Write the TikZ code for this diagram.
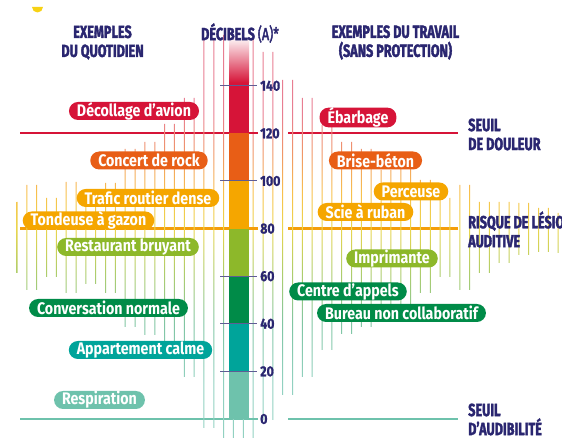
\documentclass[tikz,border=0pt]{standalone}
\usepackage{fontspec}
\setmainfont{Fira Sans}
\newfontfamily\pillfont[FakeStretch=0.85]{Fira Sans}
\newfontfamily\titrefont[FakeStretch=0.72,FakeBold=2]{Fira Sans}
\newfontfamily\chiffrefont[FakeStretch=0.85,FakeBold=1]{Fira Sans}

\definecolor{dbrouge}{RGB}{214,20,56}
\definecolor{dborange}{RGB}{232,94,22}
\definecolor{dbambre}{RGB}{245,166,0}
\definecolor{dbjaune}{RGB}{226,196,0}
\definecolor{dbtilleul}{RGB}{141,184,42}
\definecolor{dbvert}{RGB}{0,139,72}
\definecolor{dbsarcelle}{RGB}{0,164,154}
\definecolor{dbmenthe}{RGB}{110,194,172}
\definecolor{marine}{RGB}{42,38,112}
\definecolor{soleil}{RGB}{247,210,20}
\definecolor{seuilambre}{RGB}{244,158,10}

% Degrade des traits verticaux (0 dB en bas, rouge en haut)
\pgfdeclareverticalshading{ondes}{100bp}{%
  color(0bp)=(dbmenthe!75);
  color(31bp)=(dbmenthe!75);
  color(38bp)=(dbvert!50);
  color(44bp)=(dbtilleul!70);
  color(49bp)=(dbjaune!70);
  color(53bp)=(dbambre!70);
  color(57.5bp)=(dborange!65);
  color(62bp)=(dbrouge!55);
  color(100bp)=(dbrouge!55)}

\begin{document}
\begin{tikzpicture}[x=0.3mm, y=0.3mm,
    pastille/.style={rounded corners=2.7mm, minimum height=5.4mm, inner xsep=2.4mm,
      inner ysep=0pt, text=white, font=\pillfont\bfseries\fontsize{14.3}{14.3}\selectfont},
    titre/.style={text=marine, align=center, inner sep=0pt,
      font=\titrefont\bfseries\fontsize{15}{16.2}\selectfont},
    chiffre/.style={text=marine, anchor=west, inner sep=0pt,
      font=\chiffrefont\bfseries\fontsize{12.4}{12.4}\selectfont},
    repere/.style={draw=marine!75, line width=0.3mm}]
    \useasboundingbox (0,0) rectangle (562,438);

    % Seuils (120, 80 et 0 dB)
    \fill[dbrouge] (20,303.5) rectangle (258,305.6);
    \fill[dbrouge] (288,303.5) rectangle (458,305.6);
    \fill[seuilambre] (20,208.4) rectangle (258,210.5);
    \fill[seuilambre] (288,208.4) rectangle (458,210.5);
    \fill[dbmenthe] (20,18) rectangle (258,20);
    \fill[dbmenthe] (288,18) rectangle (458,20);

    % Traits verticaux (onde sonore)
    \begin{scope}
        \clip (16.5,165) rectangle (17.5,236)
              (557.5,185) rectangle (558.5,225)
              \foreach \i/\t/\b in {1/253/148, 3/240/161, 5/256/145, 7/248/154,
                  9/255/145, 11/289/111, 13/296/103, 15/314/88, 17/340/61,
                  19/398/10, 21/403/-7, 23/403/-7, 25/386/18, 27/358/43,
                  29/340/61, 31/313/88, 33/296/104, 35/289/111, 37/268/133,
                  39/270/128, 41/258/145, 43/240/161, 45/253/148, 47/236/165,
                  49/236/175, 51/235/183, 53/230/186}
              { ({16.5+9.84*\i},\b) rectangle ({17.5+9.84*\i},\t)
                ({26.34+9.84*\i},\b) rectangle ({27.34+9.84*\i},\t) };
        \shade[shading=ondes] (0,0) rectangle (562,438);
    \end{scope}

    % Echelle en couleur
    \fill[dbmenthe] (229,19) rectangle (249,66.6);
    \fill[dbsarcelle] (229,66.6) rectangle (249,114.2);
    \fill[dbvert] (229,114.2) rectangle (249,161.8);
    \fill[dbtilleul] (229,161.8) rectangle (249,209.4);
    \fill[dbambre] (229,209.4) rectangle (249,257);
    \fill[dborange] (229,257) rectangle (249,304.6);
    \fill[dbrouge] (229,304.6) rectangle (249,356);
    \shade[bottom color=dbrouge, top color=white] (229,355.5) rectangle (249,402);

    % Graduations
    \foreach \y in {66.6, 114.2, 161.8, 257, 352.2}
        \draw[repere] (220,\y) -- (257,\y);
    \fill[dbrouge] (249,303.5) rectangle (258,305.6);
    \fill[seuilambre] (249,208.4) rectangle (258,210.5);
    \fill[dbmenthe] (249,18) rectangle (258,20);
    \foreach \v [count=\k from 0] in {0,20,40,60,80,100,120,140}
        \node[chiffre] (db\v) at (260,{19+47.6*\k}) {\v};

    % Exemples du quotidien
    \node[pastille, fill=dbrouge] (avion) at (134,327) {Décollage d’avion};
    \node[pastille, fill=dborange] (rock) at (149,277.5) {Concert de rock};
    \node[pastille, fill=dbambre] (trafic) at (148,240) {Trafic routier dense};
    \node[pastille, fill=dbambre] (tondeuse) at (88.5,217.5) {Tondeuse à gazon};
    \node[pastille, fill=dbtilleul] (restaurant) at (128,191) {Restaurant bruyant};
    \node[pastille, fill=dbvert] (conversation) at (108.5,130) {Conversation normale};
    \node[pastille, fill=dbsarcelle] (appartement) at (140.5,88) {Appartement calme};
    \node[pastille, fill=dbmenthe] (respiration) at (99.5,38) {Respiration};

    % Exemples du travail
    \node[pastille, fill=dbrouge] (ebarbage) at (358,320.5) {Ébarbage};
    \node[pastille, fill=dborange] (beton) at (375.5,277.5) {Brise-béton};
    \node[pastille, fill=dbambre] (perceuse) at (411,246.5) {Perceuse};
    \node[pastille, fill=dbambre] (scie) at (365.5,226) {Scie à ruban};
    \node[pastille, fill=dbtilleul] (imprimante) at (392,179.5) {Imprimante};
    \node[pastille, fill=dbvert] (appels) at (348,146.5) {Centre d’appels};
    \node[pastille, fill=dbvert] (bureau) at (401.5,125) {Bureau non collaboratif};

    % Titres
    \node[titre] (quotidien) at (102.5,395.5) {EXEMPLES\\DU QUOTIDIEN};
    \node[titre] (decibels) at (240,405) {DÉCIBELS\,{\mdseries(A)*}};
    \node[titre] (travail) at (395.5,395.5) {EXEMPLES DU TRAVAIL\\(SANS PROTECTION)};
    \node[titre, align=left, anchor=west] (douleur) at (468,303.5) {SEUIL\\DE DOULEUR};
    \node[titre, align=left, anchor=west] (lesion) at (468,208.5) {RISQUE DE LÉSION\\AUDITIVE};
    \node[titre, align=left, anchor=west] (audibilite) at (468,18.5) {SEUIL\\D’AUDIBILITÉ};

    % Demi-disque jaune
    \fill[soleil] (32,431) arc (180:360:5.5) -- cycle;
\end{tikzpicture}
\end{document}
